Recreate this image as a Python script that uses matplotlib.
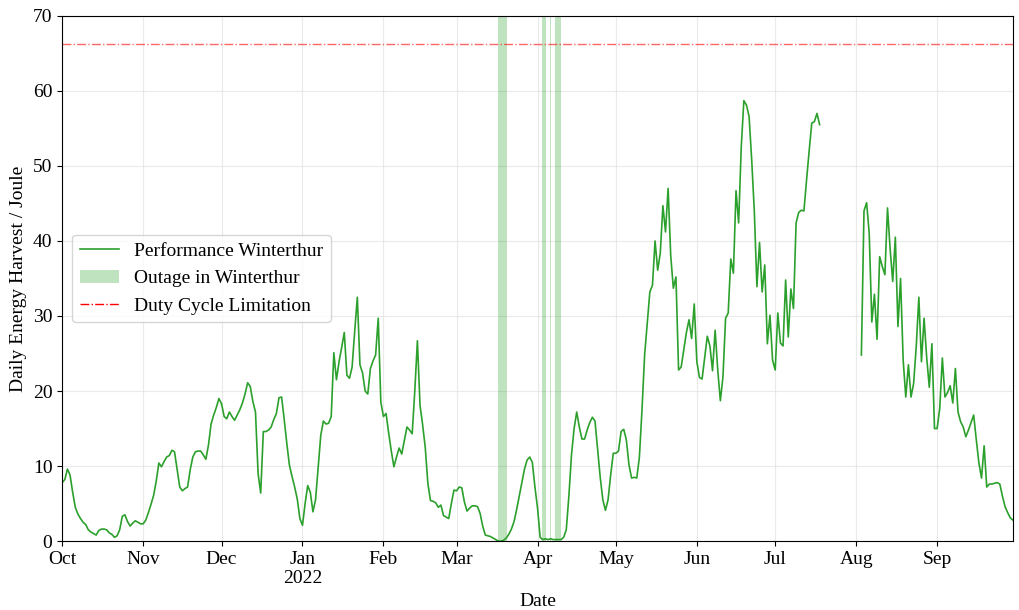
import numpy as np
import pandas as pd
import matplotlib
matplotlib.use("Agg")
import matplotlib.pyplot as plt
import matplotlib.dates as mdates
from matplotlib.patches import Patch
from matplotlib.lines import Line2D

plt.rcParams['font.family'] = ['Liberation Serif', 'DejaVu Serif']

# daily harvest per month, Oct 2021 .. Sep 2022 (nan = no data)
oct21 = [7.8, 8.2, 9.6, 8.8, 6.5, 4.5, 3.6, 3.0, 2.5, 2.2, 1.5, 1.2, 1.0, 0.8, 1.4, 1.6,
         1.6, 1.5, 1.1, 0.9, 0.5, 0.7, 1.5, 3.3, 3.5, 2.6, 2.0, 2.4, 2.7, 2.5, 2.3]
nov21 = [2.3, 2.8, 3.8, 4.9, 6.1, 8.0, 10.4, 9.9, 10.6, 11.2, 11.4, 12.1, 11.9, 9.5, 7.2,
         6.7, 7.0, 7.2, 9.5, 11.2, 11.9, 12.0, 12.0, 11.5, 10.9, 12.8, 15.6, 16.8, 17.8, 19.0]
dec21 = [18.3, 16.6, 16.3, 17.2, 16.6, 16.1, 16.8, 17.5, 18.4, 19.6, 21.1, 20.6, 18.6, 17.2,
         9.0, 6.4, 14.6, 14.6, 14.8, 15.2, 16.2, 17.0, 19.1, 19.2, 16.2, 13.0, 10.1, 8.6, 7.2,
         5.6, 3.0]
jan22 = [2.1, 5.0, 7.4, 6.5, 3.9, 5.5, 9.8, 14.1, 16.0, 15.6, 15.7, 16.6, 25.1, 21.5, 23.9,
         25.8, 27.8, 22.1, 21.7, 23.2, 28.0, 32.5, 23.5, 22.4, 20.0, 19.6, 23.0, 24.0, 24.8,
         29.7, 18.5]
feb22 = [16.6, 17.0, 14.4, 12.0, 9.9, 11.2, 12.4, 11.6, 13.4, 15.2, 14.8, 14.3, 20.0, 26.7,
         18.1, 15.5, 12.5, 7.7, 5.4, 5.3, 5.1, 4.5, 4.8, 3.4, 3.2, 3.0, 5.0, 6.8]
mar22 = [6.7, 7.2, 7.1, 5.2, 4.0, 4.4, 4.7, 4.7, 4.6, 3.7, 2.0, 0.8, 0.7, 0.6, 0.4, 0.2,
         0.0, 0.0, 0.1, 0.4, 0.9, 1.6, 2.6, 4.2, 6.0, 7.8, 9.6, 10.8, 11.2, 10.5, 7.2]
apr22 = [4.4, 0.5, 0.2, 0.3, 0.2, 0.3, 0.2, 0.2, 0.2, 0.2, 0.5, 1.5, 6.0, 11.5, 15.0, 17.2,
         15.2, 13.6, 13.6, 14.8, 15.8, 16.5, 16.0, 12.3, 8.5, 5.5, 4.1, 5.5, 8.8, 11.7]
may22 = [11.7, 12.0, 14.6, 14.9, 13.5, 10.2, 8.4, 8.5, 8.4, 11.2, 17.5, 24.8, 29.0, 33.2,
         34.1, 40.0, 36.1, 38.4, 44.7, 41.2, 47.0, 38.0, 33.7, 35.2, 22.8, 23.2, 25.5, 27.8,
         29.5, 27.0, 31.6]
jun22 = [23.9, 21.8, 21.6, 24.5, 27.3, 26.0, 22.7, 28.1, 22.8, 18.7, 21.9, 29.7, 30.4, 37.6,
         35.7, 46.7, 42.4, 52.5, 58.7, 58.1, 56.6, 50.8, 44.0, 33.9, 39.8, 33.2, 36.8, 26.3,
         30.1, 24.1]
jul22 = [22.8, 30.4, 26.4, 26.0, 34.8, 27.2, 33.6, 31.0, 42.4, 43.8, 44.1, 44.0, 48.1, 52.0,
         55.7, 55.9, 57.0, 55.5] + [np.nan] * 13
aug22 = [np.nan, np.nan, 24.8, 44.0, 45.1, 41.0, 29.2, 32.9, 26.9, 37.9, 36.6, 35.5, 44.4,
         39.0, 34.6, 40.5, 28.6, 35.0, 24.1, 19.2, 23.5, 19.2, 21.0, 25.9, 32.5, 23.9, 29.7,
         24.5, 20.5, 26.3, 15.0]
sep22 = [15.0, 17.7, 24.4, 19.2, 19.8, 20.7, 18.4, 23.0, 17.2, 15.9, 15.2, 13.9, 14.8, 15.8,
         16.8, 13.5, 10.4, 8.4, 12.7, 7.2, 7.6, 7.6, 7.7, 7.8, 7.6, 6.0, 4.6, 3.8, 3.1, 2.8]

outage_start = ["2022-03-16 19:00", "2022-04-02 19:00", "2022-04-05 17:00", "2022-04-07 14:00"]
outage_end = ["2022-03-20 05:00", "2022-04-04 05:00", "2022-04-06 05:00", "2022-04-10 02:00"]

duty_cycle_limit = 66.3

month_labels = ['Oct', 'Nov', 'Dec', 'Jan\n2022', 'Feb', 'Mar', 'Apr', 'May', 'Jun', 'Jul',
                'Aug', 'Sep']

values = np.array(oct21 + nov21 + dec21 + jan22 + feb22 + mar22 + apr22 + may22 + jun22
                  + jul22 + aug22 + sep22, dtype=float)
dates = pd.date_range("2021-10-01", periods=len(values), freq="D")

fig, ax = plt.subplots(figsize=(10.2, 6.1), dpi=100)
fig.subplots_adjust(left=0.061, right=0.993, top=0.974, bottom=0.113)

ax.plot(dates, values, color='tab:green', lw=1.2)
for s, e in zip(outage_start, outage_end):
    ax.axvspan(pd.Timestamp(s), pd.Timestamp(e), color='tab:green', alpha=0.3, lw=0)
ax.axhline(duty_cycle_limit, color='red', ls='-.', lw=1, alpha=0.6)

ticks = pd.date_range("2021-10-01", "2022-09-01", freq="MS")
ax.set_xticks(ticks)
ax.set_xticklabels(month_labels)
ax.set_xlim(pd.Timestamp("2021-10-01"), pd.Timestamp("2022-09-30"))
ax.set_ylim(0, 70)
ax.tick_params(labelsize=14)
ax.grid(True, color='#dddddd', alpha=0.6, lw=0.8)
ax.set_axisbelow(True)

ax.set_xlabel("Date", fontsize=14)
ax.set_ylabel("Daily Energy Harvest / Joule", fontsize=14)

handles = [Line2D([], [], color='tab:green', lw=1.2),
           Patch(facecolor='tab:green', alpha=0.3, lw=0),
           Line2D([], [], color='red', ls='-.', lw=1)]
labels = ['Performance Winterthur', 'Outage in Winterthur', 'Duty Cycle Limitation']
ax.legend(handles, labels, loc='center left', fontsize=14)

fig.savefig("out.png", dpi=100)
